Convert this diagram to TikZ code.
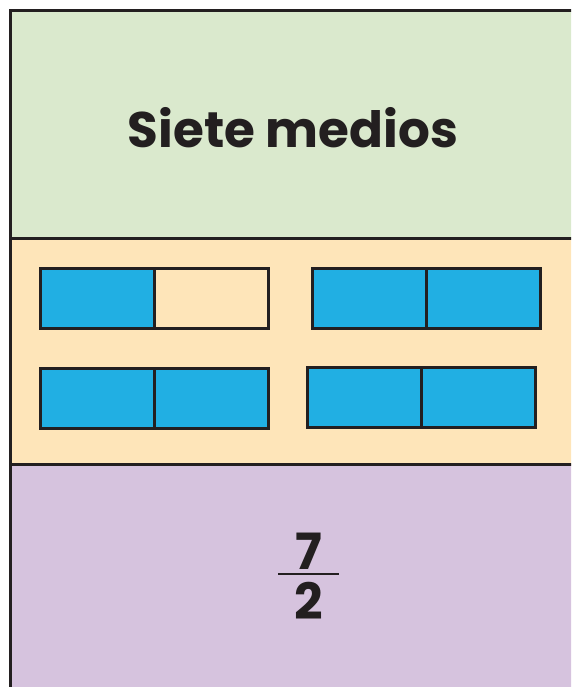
\documentclass[tikz,border=0pt]{standalone}
\usepackage{fontspec}
\setmainfont{Poppins}
\usetikzlibrary{positioning}
\definecolor{panelgreen}{HTML}{DAE9CD}
\definecolor{panelorange}{HTML}{FEE5B9}
\definecolor{panelpurple}{HTML}{D6C3DE}
\definecolor{halfblue}{HTML}{21AFE3}
\definecolor{inkline}{HTML}{231F20}
\tikzset{
  panel/.style={draw=inkline, line width=3pt},
  half/.style={draw=inkline, line width=3pt, minimum width=114pt, minimum height=60pt, inner sep=0pt, outer sep=0pt},
  fullhalf/.style={half, fill=halfblue},
  emptyhalf/.style={half, fill=panelorange},
  title/.style={font=\bfseries\fontsize{50}{56}\selectfont, text=inkline, inner sep=0pt}
}
\begin{document}
\begin{tikzpicture}[x=1pt, y=-1pt]
            \clip (0,0) rectangle (571,687);

            % three bands of the frame
            \fill[panelgreen] (10,11) rectangle (590,238);
            \fill[panelorange] (10,238) rectangle (590,464);
            \fill[panelpurple] (10,464) rectangle (590,700);
            \draw[panel] (590,11) -- (10,11) -- (10,700);
            \draw[panel] (10,238) -- (590,238);
            \draw[panel] (10,464) -- (590,464);

            \node[title] (name) at (293,128) {Siete medios};

            % four wholes cut in halves
            \node[fullhalf, anchor=north west] (w1a) at (40,268) {};
            \node[emptyhalf, right=0pt of w1a] (w1b) {};
            \node[fullhalf, anchor=north west] (w2a) at (312,268) {};
            \node[fullhalf, right=0pt of w2a] (w2b) {};
            \node[fullhalf, anchor=north west] (w3a) at (40,368) {};
            \node[fullhalf, right=0pt of w3a] (w3b) {};
            \node[fullhalf, anchor=north west] (w4a) at (307,367) {};
            \node[fullhalf, right=0pt of w4a] (w4b) {};

            % seven over two
            \node[title] (num) at (309,551) {7};
            \node[title] (den) at (309,601) {2};
            \coordinate (barl) at (278,574);
            \coordinate (barr) at (339,574);
            \draw[inkline, line width=2pt] (barl) -- (barr);
        \end{tikzpicture}
\end{document}
